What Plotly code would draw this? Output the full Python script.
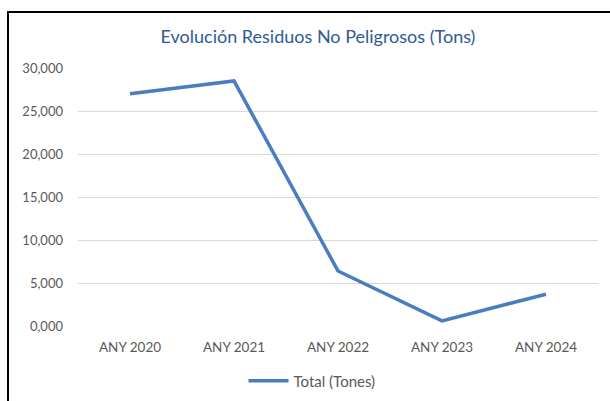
import plotly.graph_objects as go

categories = ["ANY 2020", "ANY 2021", "ANY 2022", "ANY 2023", "ANY 2024"]
total_tones = [27000, 28500, 6400, 600, 3700]
y_tick_vals = [0, 5000, 10000, 15000, 20000, 25000, 30000]
y_tick_text = ["0,000", "5,000", "10,000", "15,000", "20,000", "25,000", "30,000"]
series_name = "Total (Tones)"
title_text = "Evolución Residuos No Peligrosos (Tons)"

W, H = 610, 401
L, R, T, B = 78, 12, 68, 75
pw, ph = W - L - R, H - T - B

def px_x(px):
    return (px - L) / pw

def px_y(py):
    return (H - B - py) / ph

fig = go.Figure()
fig.add_trace(go.Scatter(
    x=categories, y=total_tones, mode="lines", name=series_name,
    line=dict(color="#4A7DBF", width=3.5), hoverinfo="skip",
))

font = "Lato, 'Open Sans', sans-serif"
fig.update_layout(
    width=W, height=H,
    margin=dict(l=L, r=R, t=T, b=B, autoexpand=False),
    paper_bgcolor="white", plot_bgcolor="white",
    font=dict(family=font, color="#595959", size=13),
    title=dict(text=title_text, x=px_x(318), xref="paper", xanchor="center",
               y=1 - 37 / H, yref="container", yanchor="middle",
               font=dict(family=font, size=18, color="#2E5A96")),
    showlegend=True,
    legend=dict(orientation="h", x=px_x(312), xanchor="center",
                y=1 - 381 / H, yref="container", yanchor="middle",
                font=dict(family=font, size=15, color="#595959"), itemwidth=40,
                bgcolor="rgba(0,0,0,0)"),
    xaxis=dict(range=[-0.5, 4.5], showgrid=False, showline=False, zeroline=False,
               ticks="", ticklabelstandoff=11, automargin=False,
               tickfont=dict(size=13.5, color="#595959"), fixedrange=True),
    yaxis=dict(range=[0, 30000], tickvals=y_tick_vals, ticktext=y_tick_text,
               showgrid=True, gridcolor="#D9D9D9", gridwidth=1, zeroline=False,
               showline=False, ticks="", ticklabelstandoff=14, automargin=False,
               tickfont=dict(size=13, color="#595959"), fixedrange=True),
    shapes=[
        dict(type="line", xref="paper", yref="paper", x0=px_x(7), x1=px_x(612),
             y0=px_y(12), y1=px_y(12), line=dict(color="black", width=2)),
        dict(type="line", xref="paper", yref="paper", x0=px_x(8), x1=px_x(8),
             y0=px_y(11), y1=px_y(403), line=dict(color="black", width=2)),
    ],
)

fig.write_html("out.html", config={"displayModeBar": False},
               post_script="document.body.style.margin='0';document.body.style.overflow='hidden';")
